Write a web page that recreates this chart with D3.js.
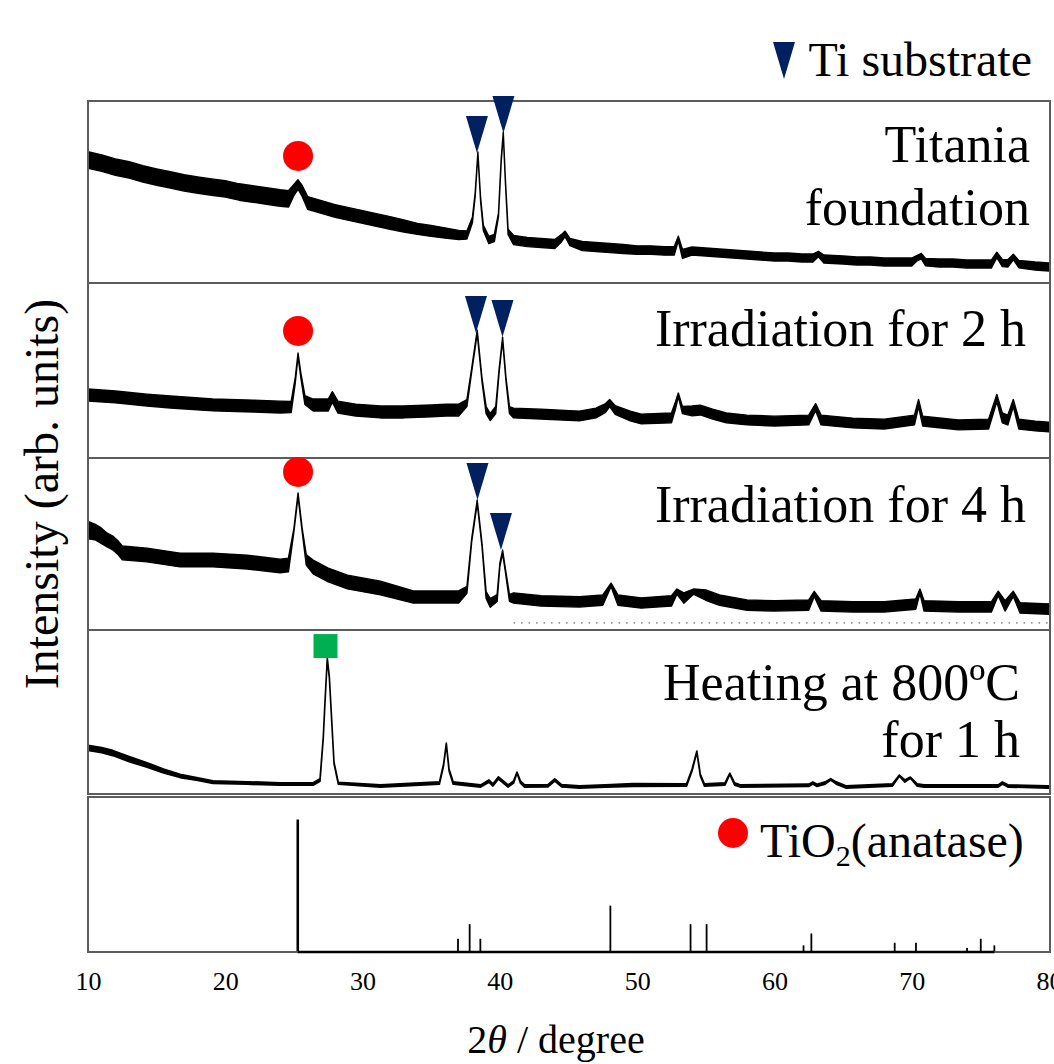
<!DOCTYPE html>
<html>
<head>
<meta charset="utf-8">
<script src="https://cdn.jsdelivr.net/npm/d3@7"></script>
<style>
  html, body { margin: 0; padding: 0; background: #fff; }
  svg { display: block; font-family: "Liberation Serif", "Times New Roman", serif; }
</style>
</head>
<body>
<svg id="chart" width="1054" height="1064"></svg>
<script>
// ---- data -------------------------------------------------------------
const tickValues = [10, 20, 30, 40, 50, 60, 70, 80];

// XRD scans: [2θ, lower edge of the noise band, upper edge], arb. units (0–100 per panel)
const scanFoundation = [
  [10.0, 63.1, 72.1], [11.0, 61.4, 70.4], [12.0, 59.2, 68.2], [13.0, 57.6, 66.6],
  [14.0, 55.4, 64.4], [15.0, 53.7, 62.7], [16.0, 52.1, 61.1], [17.0, 50.5, 59.5],
  [18.0, 49.3, 58.3], [19.0, 48.2, 57.2], [20.0, 47.2, 56.2], [21.0, 45.5, 54.5],
  [22.0, 44.4, 53.4], [23.0, 43.3, 52.3], [24.0, 42.2, 51.2], [24.6, 41.7, 50.7],
  [25.0, 48.1, 54.1], [25.3, 51.5, 56.7], [25.6, 47.6, 53.6], [26.0, 40.5, 47.5],
  [27.0, 38.3, 45.3], [28.0, 36.1, 43.1], [29.0, 34.4, 41.4], [30.0, 32.8, 39.8],
  [31.0, 31.1, 38.1], [32.0, 29.5, 36.5], [33.0, 28.0, 34.6], [34.0, 26.7, 32.7],
  [35.0, 25.6, 31.6], [36.0, 24.7, 30.3], [37.0, 23.9, 28.9], [37.6, 24.2, 28.6],
  [38.0, 33.1, 36.1], [38.2, 47.4, 49.4], [38.4, 70.5, 72.0], [38.6, 44.6, 46.6],
  [38.8, 28.7, 31.7], [39.2, 21.6, 25.6], [39.6, 22.7, 26.7], [39.9, 36.4, 38.4],
  [40.1, 66.6, 68.6], [40.25, 81.5, 83.0], [40.4, 55.6, 57.6], [40.6, 26.5, 29.5],
  [41.0, 21.1, 26.1], [42.0, 20.0, 25.0], [43.0, 19.5, 24.5], [44.0, 18.9, 23.9],
  [44.5, 22.7, 26.7], [44.75, 25.5, 28.5], [45.1, 20.5, 24.5], [46.0, 17.8, 22.8],
  [47.0, 17.3, 22.3], [48.0, 16.7, 21.7], [49.0, 16.2, 21.2], [50.0, 15.8, 20.4],
  [51.0, 15.8, 20.4], [52.0, 15.3, 19.9], [52.7, 15.3, 19.9], [53.0, 23.2, 25.7],
  [53.3, 13.5, 18.5], [54.0, 15.4, 19.8], [55.0, 14.8, 19.2], [56.0, 14.3, 18.7],
  [57.0, 13.7, 18.1], [58.0, 13.2, 17.6], [59.0, 12.6, 17.0], [60.0, 12.1, 16.5],
  [61.0, 12.1, 16.5], [62.0, 11.5, 15.9], [62.8, 11.5, 15.9], [63.2, 14.4, 17.4],
  [63.6, 11.0, 15.4], [65.0, 10.4, 14.8], [66.0, 9.9, 14.3], [67.0, 9.9, 14.3],
  [68.0, 9.3, 13.7], [69.0, 9.3, 13.7], [70.0, 9.3, 13.7], [70.4, 12.2, 15.2],
  [70.7, 13.3, 16.3], [71.0, 9.5, 13.5], [72.0, 8.8, 13.2], [73.0, 8.8, 13.2],
  [74.0, 8.2, 12.6], [75.0, 8.2, 12.6], [75.8, 8.2, 12.6], [76.2, 13.9, 16.9],
  [76.6, 9.0, 13.0], [77.0, 8.8, 12.8], [77.4, 12.8, 15.8], [77.8, 8.4, 12.4],
  [79.0, 7.1, 11.5], [80.0, 6.6, 11.0]
];

const scan2h = [
  [10.0, 32.6, 39.4], [12.0, 31.5, 38.3], [14.3, 29.7, 36.5], [16.0, 28.6, 35.4],
  [19.1, 26.9, 33.7], [22.0, 26.3, 33.1], [24.0, 25.7, 32.5], [24.8, 25.9, 32.3],
  [25.1, 43.1, 46.1], [25.3, 58.0, 60.0], [25.5, 46.0, 48.8], [25.8, 30.6, 35.6],
  [26.4, 26.9, 33.7], [27.5, 26.9, 33.7], [27.8, 31.9, 37.9], [28.2, 25.7, 32.5],
  [29.5, 24.0, 30.8], [31.3, 22.9, 29.7], [33.0, 22.9, 29.7], [35.0, 23.5, 30.3],
  [36.1, 24.0, 30.8], [37.0, 24.0, 30.8], [37.6, 29.4, 33.4], [37.95, 49.3, 51.3],
  [38.35, 71.1, 73.1], [38.7, 43.6, 45.6], [39.0, 25.4, 29.4], [39.3, 21.4, 25.4],
  [39.7, 25.4, 29.4], [39.95, 49.3, 51.3], [40.2, 67.1, 69.1], [40.45, 43.6, 45.6],
  [40.7, 25.4, 29.4], [41.0, 22.9, 28.5], [43.0, 22.3, 27.9], [45.8, 21.2, 26.8],
  [47.0, 22.9, 28.5], [47.7, 26.1, 31.1], [48.0, 29.4, 33.4], [48.4, 24.9, 29.9],
  [49.5, 21.2, 26.8], [50.3, 19.5, 25.1], [52.5, 20.1, 25.7], [52.8, 28.3, 32.3],
  [53.0, 35.1, 37.1], [53.3, 25.4, 29.4], [54.0, 24.1, 29.7], [54.6, 24.6, 30.2],
  [55.5, 22.3, 27.9], [56.5, 20.1, 25.7], [58.0, 18.9, 24.5], [60.0, 18.3, 23.9],
  [62.5, 18.9, 24.5], [63.0, 27.1, 31.1], [63.4, 18.9, 24.5], [65.7, 17.2, 22.8],
  [68.0, 16.6, 22.2], [70.2, 18.9, 24.5], [70.5, 29.4, 33.4], [70.8, 18.3, 23.9],
  [73.4, 16.1, 21.7], [75.6, 16.6, 22.2], [76.2, 32.3, 36.3], [76.6, 20.1, 25.7],
  [77.0, 18.9, 24.5], [77.4, 29.4, 33.4], [77.8, 16.6, 22.2], [79.0, 15.5, 21.1],
  [80.0, 14.9, 20.5]
];

const scan4h = [
  [10.0, 53.1, 63.1], [10.5, 52.5, 61.5], [10.9, 50.7, 59.7], [11.4, 48.3, 56.3],
  [11.8, 46.6, 54.6], [12.2, 43.7, 51.7], [12.5, 40.8, 48.8], [14.3, 39.6, 47.6],
  [16.7, 36.7, 44.7], [19.1, 36.7, 44.7], [21.6, 35.5, 43.5], [24.0, 33.2, 41.2],
  [24.6, 33.8, 41.8], [25.0, 57.1, 59.1], [25.3, 77.7, 79.7], [25.6, 57.1, 59.1],
  [25.9, 37.7, 43.7], [26.4, 32.6, 40.6], [27.5, 28.0, 36.0], [28.9, 23.9, 31.9],
  [31.3, 20.4, 28.4], [33.7, 15.7, 22.7], [36.1, 15.7, 22.7], [37.0, 15.7, 22.7],
  [37.6, 21.3, 25.3], [37.95, 51.3, 53.3], [38.35, 73.6, 75.6], [38.7, 48.4, 50.4],
  [39.0, 18.3, 22.3], [39.3, 13.2, 18.2], [39.8, 16.6, 20.6], [40.0, 36.8, 38.8],
  [40.2, 44.5, 46.5], [40.4, 33.9, 35.9], [40.7, 16.6, 20.6], [41.0, 15.6, 21.6],
  [43.0, 13.9, 19.9], [45.8, 13.3, 19.3], [47.5, 14.4, 20.4], [48.1, 25.3, 27.3],
  [48.6, 14.4, 20.4], [50.3, 12.7, 18.7], [52.5, 13.9, 19.9], [52.9, 20.8, 23.8],
  [53.4, 15.6, 21.6], [54.1, 20.8, 23.8], [55.0, 17.3, 23.3], [56.0, 14.4, 20.4],
  [58.0, 11.5, 17.5], [60.0, 11.0, 17.0], [62.5, 11.5, 17.5], [62.9, 19.5, 22.5],
  [63.4, 11.0, 17.0], [65.7, 10.4, 16.4], [68.0, 10.4, 16.4], [70.3, 12.1, 18.1],
  [70.6, 21.3, 23.8], [70.9, 11.0, 17.0], [73.4, 10.4, 16.4], [75.8, 10.4, 16.4],
  [76.3, 20.1, 22.6], [76.8, 11.0, 17.0], [77.4, 19.5, 22.5], [77.9, 9.8, 15.8],
  [80.0, 9.2, 15.2]
];

// faint dotted trace near the bottom of the 4 h panel
const scan4hFaint = [[41.0, 4.1], [80.0, 4.1]];

const scanHeated = [
  [10.0, 26.5, 29.7], [11.0, 25.2, 28.4], [11.8, 23.4, 26.6], [13.0, 19.7, 22.9],
  [14.3, 16.3, 19.1], [15.5, 12.8, 15.2], [16.7, 10.0, 12.0], [18.0, 8.3, 9.9],
  [19.1, 6.5, 8.1], [21.6, 5.9, 7.5], [24.0, 5.3, 6.9], [26.4, 5.3, 6.9],
  [26.9, 7.7, 9.3], [27.14, 34.2, 35.4], [27.26, 55.0, 56.0], [27.43, 82.0, 82.9],
  [27.58, 70.8, 71.8], [27.75, 44.6, 45.6], [27.92, 18.4, 19.4], [28.23, 6.0, 7.2],
  [31.3, 4.2, 5.6], [35.6, 6.0, 7.4], [35.9, 17.1, 18.3], [36.1, 30.3, 31.1],
  [36.3, 14.0, 15.2], [36.6, 6.0, 7.4], [38.6, 4.2, 5.6], [39.2, 7.2, 8.6],
  [39.5, 4.8, 6.2], [39.9, 9.1, 10.5], [40.6, 4.2, 5.6], [41.0, 6.6, 8.0],
  [41.25, 12.6, 13.4], [41.5, 6.6, 8.0], [41.8, 4.2, 5.6], [43.5, 4.3, 5.7],
  [44.0, 7.8, 9.2], [44.5, 4.3, 5.7], [45.8, 3.6, 5.0], [47.7, 4.2, 5.6],
  [49.7, 4.6, 6.4], [53.6, 4.8, 6.2], [54.0, 14.0, 15.2], [54.35, 25.4, 26.2],
  [54.6, 11.0, 12.2], [54.9, 4.8, 6.2], [56.4, 5.4, 6.8], [56.75, 12.0, 12.8],
  [57.1, 5.4, 6.8], [57.5, 4.2, 5.6], [62.5, 4.6, 6.0], [62.8, 6.0, 7.4],
  [63.1, 4.6, 6.0], [63.7, 6.0, 7.4], [64.1, 8.4, 9.4], [64.5, 6.0, 7.4],
  [65.2, 3.6, 5.0], [68.6, 4.8, 6.2], [69.1, 10.8, 11.6], [69.5, 7.2, 8.6],
  [69.9, 9.6, 10.4], [70.4, 4.8, 6.2], [70.9, 4.2, 5.6], [76.3, 4.2, 5.6],
  [76.6, 6.0, 7.4], [77.0, 4.2, 5.6], [79.9, 3.6, 5.0], [80.0, 3.6, 5.0]
];

// reference pattern of anatase TiO2: [2θ, relative intensity]
const anataseRef = [
  [25.28, 100], [36.95, 10], [37.80, 21], [38.58, 10], [48.05, 35], [53.89, 21],
  [55.06, 21], [62.12, 5], [62.69, 14], [68.76, 7], [70.31, 7], [74.03, 3],
  [75.03, 10], [76.02, 5]
];

const sampleLabels = [
  ["Titania", "foundation"],
  ["Irradiation for 2 h"],
  ["Irradiation for 4 h"],
  ["Heating at 800ºC", "for 1 h"]
];

// peak markers: [panel index, 2θ, intensity]
const anataseMarks = [[0, 25.3, 69.8], [1, 25.3, 72.6], [2, 25.3, 91.9]];
const tiMarks = [
  [0, 38.33, 71.4], [0, 40.26, 82.4],
  [1, 38.26, 71.4], [1, 40.19, 69.1],
  [2, 38.37, 75.6], [2, 40.08, 46.5]
];
const rutileMarks = [[3, 27.3, 90.2]];

// ---- layout -----------------------------------------------------------
const C_TI = "#002060", C_ANA = "#ff0000", C_RUT = "#00b050", C_FRAME = "#5c5c5c";
const frameLeft = 88, frameRight = 1050;
const panels = [
  { top: 101, bottom: 283 },
  { top: 283, bottom: 458 },
  { top: 458, bottom: 630 },
  { top: 630, bottom: 794 },
  { top: 797, bottom: 952 }
];
const labelLayout = [
  { end: 1030, baselines: [162, 225] },
  { end: 1026, baselines: [346] },
  { end: 1026, baselines: [522] },
  { end: 1020, baselines: [700, 757] }
];

const svg = d3.select("#chart");
const x = d3.scaleLinear().domain([10, 80]).range([88, 1049]);
const yScales = panels.map((p, i) =>
  d3.scaleLinear().domain([0, i === 4 ? 117 : 100]).range([p.bottom, p.top]));

const defs = svg.append("defs");
panels.forEach((p, i) => {
  defs.append("clipPath").attr("id", "clip" + i)
    .append("rect")
    .attr("x", frameLeft).attr("y", p.top)
    .attr("width", frameRight - frameLeft).attr("height", p.bottom - p.top);
});

// scans
const scans = [scanFoundation, scan2h, scan4h, scanHeated];
scans.forEach((scan, i) => {
  const y = yScales[i];
  const band = d3.area()
    .x(d => x(d[0])).y0(d => y(d[1])).y1(d => y(d[2]));
  svg.append("g").attr("clip-path", `url(#clip${i})`)
    .append("path").datum(scan)
    .attr("d", band)
    .attr("fill", "#000")
    .attr("stroke", "#000")
    .attr("stroke-width", i === 3 ? 1.6 : 1.4)
    .attr("stroke-linejoin", "round");
});

svg.append("path").datum(scan4hFaint)
  .attr("d", d3.line().x(d => x(d[0])).y(d => yScales[2](d[1])))
  .attr("fill", "none").attr("stroke", "#444")
  .attr("stroke-width", 1).attr("stroke-dasharray", "1.5 6");

// reference sticks
const yr = yScales[4];
const refG = svg.append("g").attr("clip-path", "url(#clip4)");
refG.selectAll("line.stick").data(anataseRef).join("line")
  .attr("class", "stick")
  .attr("x1", d => x(d[0])).attr("x2", d => x(d[0]))
  .attr("y1", yr(0)).attr("y2", d => yr(d[1]))
  .attr("stroke", "#000").attr("stroke-width", (d, i) => i === 0 ? 2.6 : 1.8);

// panel frames
panels.forEach(p => {
  svg.append("rect")
    .attr("x", frameLeft).attr("y", p.top)
    .attr("width", frameRight - frameLeft).attr("height", p.bottom - p.top)
    .attr("fill", "none").attr("stroke", C_FRAME).attr("stroke-width", 2);
});

// baseline of the reference pattern
svg.append("line")
  .attr("x1", x(d3.min(anataseRef, d => d[0]))).attr("x2", x(d3.max(anataseRef, d => d[0])))
  .attr("y1", yr(0)).attr("y2", yr(0))
  .attr("stroke", "#000").attr("stroke-width", 2.4);

// markers
const triW = 22, triH = 37;
const triPath = (cx, cy) =>
  `M${cx},${cy} L${cx - triW / 2},${cy - triH} L${cx + triW / 2},${cy - triH} Z`;

svg.selectAll("path.ti").data(tiMarks).join("path")
  .attr("class", "ti")
  .attr("d", d => triPath(x(d[1]), yScales[d[0]](d[2])))
  .attr("fill", C_TI);

svg.selectAll("circle.ana").data(anataseMarks).join("circle")
  .attr("class", "ana")
  .attr("cx", d => x(d[1])).attr("cy", d => yScales[d[0]](d[2]))
  .attr("r", 15).attr("fill", C_ANA);

svg.selectAll("rect.rut").data(rutileMarks).join("rect")
  .attr("class", "rut")
  .attr("x", d => x(d[1]) - 12).attr("y", d => yScales[d[0]](d[2]) - 12)
  .attr("width", 24).attr("height", 24).attr("fill", C_RUT);

// sample labels
sampleLabels.forEach((lines, i) => {
  const lay = labelLayout[i];
  lines.forEach((txt, k) => {
    svg.append("text")
      .attr("x", lay.end).attr("y", lay.baselines[k])
      .attr("text-anchor", "end")
      .attr("font-size", 52).attr("fill", "#000")
      .text(txt);
  });
});

// legend: Ti substrate
svg.append("path").attr("d", `M784,79 L773,42 L795,42 Z`).attr("fill", C_TI);
svg.append("text").attr("x", 1032).attr("y", 76).attr("text-anchor", "end")
  .attr("font-size", 48).text("Ti substrate");

// legend: anatase
svg.append("circle").attr("cx", 733).attr("cy", 833).attr("r", 15).attr("fill", C_ANA);
const anaText = svg.append("text").attr("x", 760).attr("y", 857).attr("font-size", 48);
anaText.append("tspan").text("TiO");
anaText.append("tspan").attr("font-size", 30).attr("dy", 9).text("2");
anaText.append("tspan").attr("dy", -9).text("(anatase)");

// x axis labels
const xAxis = d3.axisBottom(x).tickValues(tickValues).tickSize(0).tickPadding(20)
  .tickFormat(d3.format("d"));
const axG = svg.append("g").attr("transform", `translate(0,${panels[4].bottom})`).call(xAxis);
axG.select(".domain").remove();
axG.attr("font-family", null).attr("font-size", null);
axG.selectAll("text")
  .attr("font-family", "'Liberation Serif', 'Times New Roman', serif")
  .attr("font-size", 26).attr("fill", "#000");

// axis titles
const xt = svg.append("text").attr("x", 556).attr("y", 1053).attr("text-anchor", "middle")
  .attr("font-size", 40);
xt.append("tspan").text("2");
xt.append("tspan").attr("font-style", "italic").text("θ");
xt.append("tspan").text(" / degree");

svg.append("text")
  .attr("transform", "translate(58,494) rotate(-90)")
  .attr("text-anchor", "middle")
  .attr("font-size", 48)
  .text("Intensity (arb. units)");
</script>
</body>
</html>
